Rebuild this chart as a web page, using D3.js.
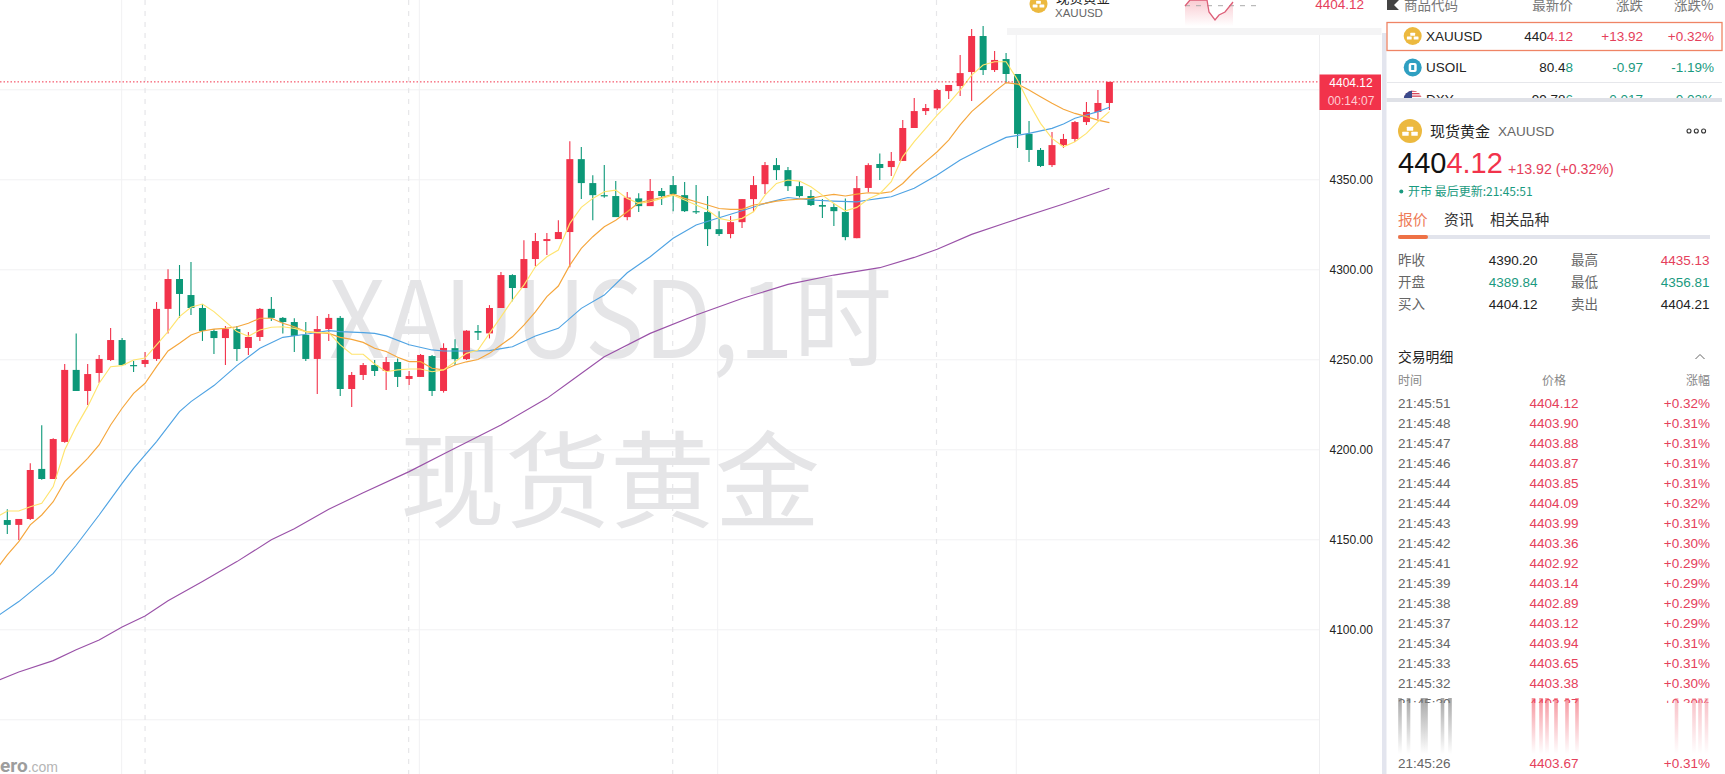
<!DOCTYPE html>
<html>
<head>
<meta charset="utf-8">
<script src="https://cdn.jsdelivr.net/npm/d3@7/dist/d3.min.js"></script>
<style>
html,body{margin:0;padding:0;background:#fff;overflow:hidden}
svg{display:block}
text{font-family:"Liberation Sans","Noto Sans CJK SC",sans-serif}
.cjk{font-family:"Noto Sans CJK SC",sans-serif}
</style>
</head>
<body>
<div id="chart"></div>
<script>
// ---------- chart data ----------
const opens=[4160.7,4158.0,4161.3,4189.1,4183.5,4204.1,4244.1,4232.4,4242.4,4249.6,4260.7,4246.8,4247.4,4250.2,4278.0,4294.6,4285.7,4278.5,4265.7,4261.8,4266.8,4256.3,4262.4,4278.0,4273.0,4270.7,4263.5,4250.2,4266.8,4273.0,4233.5,4241.3,4246.8,4243.5,4248.5,4239.1,4240.2,4251.8,4232.4,4256.2,4250.1,4265.7,4264.4,4278.5,4296.8,4289.6,4305.7,4315.7,4316.8,4320.7,4361.2,4347.9,4341.2,4340.7,4329.0,4339.4,4335.1,4343.5,4346.8,4341.2,4332.3,4331.8,4322.3,4319.6,4326.2,4339.0,4347.3,4357.9,4355.1,4346.2,4340.7,4335.7,4334.6,4331.8,4317.3,4345.2,4358.5,4356.8,4360.2,4378.5,4387.9,4389.4,4399.0,4401.8,4409.6,4429.6,4410.7,4416.8,4408.5,4375.2,4366.3,4357.9,4369.0,4372.4,4381.8,4387.4,4392.4];
const highs=[4166.7,4161.3,4192.2,4213.3,4206.1,4247.4,4264.4,4247.4,4252.4,4267.4,4261.8,4249.1,4254.1,4281.8,4300.0,4302.4,4304.1,4280.7,4266.8,4268.5,4268.5,4265.2,4278.5,4284.6,4273.5,4272.8,4270.7,4274.1,4275.2,4274.1,4243.0,4248.0,4249.6,4251.3,4250.5,4243.5,4253.0,4252.4,4258.9,4261.2,4266.2,4269.0,4280.1,4298.5,4297.3,4316.2,4320.1,4320.1,4327.3,4371.2,4367.9,4352.3,4357.9,4349.0,4342.9,4342.3,4350.1,4345.1,4351.8,4348.5,4346.8,4340.7,4332.3,4329.6,4339.0,4351.8,4359.6,4361.8,4356.8,4349.0,4344.0,4339.0,4336.6,4339.4,4351.8,4358.9,4364.4,4365.2,4382.9,4395.2,4391.8,4400.2,4402.4,4419.0,4433.5,4435.1,4421.3,4420.2,4408.5,4382.4,4367.4,4376.3,4375.2,4382.4,4392.9,4399.6,4404.12];
const lows=[4153.0,4149.6,4160.7,4183.1,4183.5,4203.7,4232.4,4224.6,4236.8,4249.1,4246.7,4243.0,4245.7,4249.1,4264.4,4273.0,4274.6,4260.2,4253.0,4246.8,4249.1,4252.4,4260.2,4271.3,4264.4,4254.1,4249.1,4230.7,4260.2,4229.6,4223.5,4238.5,4240.7,4233.0,4234.6,4235.7,4240.2,4229.6,4231.5,4246.8,4249.6,4260.7,4261.6,4278.5,4282.3,4289.6,4301.8,4307.9,4316.8,4301.2,4339.0,4327.3,4339.8,4329.0,4327.3,4331.8,4335.1,4335.7,4332.3,4331.8,4330.7,4312.9,4318.5,4317.3,4322.9,4331.8,4341.8,4349.6,4343.5,4339.9,4335.1,4328.5,4324.0,4316.2,4317.3,4342.9,4349.6,4351.8,4360.2,4378.5,4385.7,4388.5,4394.6,4396.3,4393.5,4407.9,4409.6,4403.3,4367.4,4359.6,4356.8,4356.8,4367.4,4370.7,4380.2,4383.3,4388.5];
const closes=[4158.0,4161.3,4188.5,4183.5,4205.7,4244.1,4232.4,4241.8,4250.2,4260.7,4246.8,4246.3,4249.6,4278.0,4294.6,4286.3,4278.5,4265.7,4261.8,4266.8,4255.7,4262.4,4278.0,4273.0,4270.7,4263.0,4250.2,4266.8,4273.0,4233.5,4241.3,4246.8,4243.5,4248.5,4240.2,4240.7,4252.4,4232.4,4256.3,4250.1,4265.9,4264.8,4278.5,4296.8,4289.6,4305.7,4315.7,4316.8,4320.7,4361.2,4347.9,4341.2,4340.5,4329.0,4339.9,4335.1,4343.5,4340.7,4341.8,4332.3,4331.8,4322.3,4319.6,4326.2,4339.0,4346.8,4357.9,4355.1,4346.2,4340.7,4335.7,4334.8,4332.3,4317.9,4345.1,4357.9,4356.3,4360.2,4378.5,4387.9,4389.6,4399.6,4402.4,4409.0,4429.6,4410.7,4416.3,4408.5,4375.2,4366.3,4357.4,4369.0,4372.4,4381.8,4387.4,4392.4,4404.12];

const ma5Bars=[-1,0,1,2,3,4,5,6,7,8,9,10,11,12,13,14,15,16,17,18,19,20,21,22,23,24,25,26,27,28,29,30,31,32,33,34,35,36,37,38,39,40,41,42,43,44,45,46,47,48,49,50,51,52,53,54,55,56,57,58,59,60,61,62,63,64,65,66,67,68,69,70,71,72,73,74,75,76,77,78,79,80,81,82,83,84,85,86,87,88,89,90,91,92,93,94,95,96];
const ma5Vals=[4162.2,4165.7,4165.7,4168.1,4170,4179.3,4199.6,4212.6,4223.7,4236.7,4245.9,4246.5,4249.6,4250.7,4258,4265.4,4273.7,4278.9,4280.7,4276.5,4270.9,4265.4,4262.8,4266.3,4267.8,4268.1,4267.2,4265.4,4264.8,4264.8,4258,4252.8,4252.8,4247.4,4243.1,4244.1,4244.6,4244.6,4243.1,4244.1,4248.6,4253.3,4255.1,4264.4,4273.6,4282.9,4291.2,4301.4,4307,4310.7,4325.5,4334.4,4339.4,4343.1,4344,4339.4,4336.6,4337.5,4339.4,4341.2,4338.5,4335.7,4332.9,4328.3,4327,4328.3,4332,4341.2,4347.7,4349.6,4349,4345.9,4341.2,4336.6,4332.5,4334.4,4339,4342,4348.7,4362.6,4370.9,4378.3,4385.7,4392.2,4399.6,4407.9,4413.5,4415.3,4415.3,4405.2,4392.2,4381.1,4372.7,4368.1,4370.9,4375.5,4382,4387.6];
const ma10Bars=ma5Bars;
const ma10Vals=[4133,4141.3,4148.7,4158,4163.5,4170.9,4182,4188.5,4195,4202.4,4213.5,4222.8,4231.1,4236.7,4245.9,4254.6,4258.9,4263.5,4265.7,4266.8,4267.2,4268.1,4270,4272.8,4272.8,4270,4268.1,4265.4,4264.8,4264.4,4262.2,4261.1,4259.4,4256.1,4254.3,4251.1,4248.7,4248.7,4245,4244.1,4246.8,4248.6,4249.9,4253.3,4257.9,4262.5,4269,4276.4,4284.8,4290.7,4302.3,4311.6,4318.1,4323.6,4327.3,4332,4337,4338.5,4339.9,4341.8,4339.4,4337.5,4335.7,4333.8,4333.3,4333.3,4335.7,4336.6,4337.9,4338.5,4339,4339.4,4340.7,4341.6,4340.7,4341.8,4342.5,4342.2,4343.1,4347.7,4354.2,4359.8,4365.3,4371.8,4380.2,4387.6,4393.1,4398.7,4403.7,4402.9,4399.6,4395.9,4392.2,4388.9,4386.6,4384.8,4382.9,4381.5];
const ma20Bars=[-1,1,4,6,8,10,11,13,15,16,18,20,22,24,26,28,29,31,32,33,35,37,38,40,42,44,46,48,50,52,54,56,58,60,62,64,66,68,70,72,74,75,76,77,79,81,83,85,87,89,91,92,93,94,95,96];
const ma20Vals=[4106.7,4115.4,4131.1,4146.7,4163.5,4181.1,4189.4,4204.3,4220.9,4226.5,4235.4,4246.5,4256.1,4262.2,4263.9,4265.9,4265.4,4264.8,4264.4,4263,4258.1,4255.2,4254.6,4254.6,4254.8,4257,4262.9,4267.2,4278.3,4285.7,4298.1,4307,4317.2,4324.6,4328.6,4332.5,4336.6,4339.9,4338.5,4337.9,4337.5,4338.5,4339.4,4340.3,4345,4352.4,4360.7,4367.2,4373.3,4375.5,4378.3,4380.7,4383.9,4385.7,4387.6,4390];
const ma60Bars=[-1,1,4,6,8,10,12,14,17,20,23,25,28,31,35,38,43,47,49,52,56,60,64,68,72,76,79,81,84,87,92,96];
const ma60Vals=[4071.1,4076.3,4082.6,4088.6,4094.1,4101.3,4107.4,4115.8,4126.5,4137.6,4149.7,4155.8,4166.7,4175.9,4187.6,4197.4,4213.5,4228.3,4237.5,4251.4,4264.4,4274.6,4283.8,4291.6,4296.8,4300.9,4306.6,4311.1,4319.4,4325.9,4336.3,4345];

const gridPrices=[4050,4100,4150,4200,4250,4300,4350,4400];
const tickPrices=[4100,4150,4200,4250,4300,4350];
const lastPrice=4404.12;
const lastPriceLabel="4404.12";
const countdown="00:14:07";
const watermarkTop="XAUUSD,1时";
const watermarkBottom="现货黄金";
// bar positions of the time separators
const solidGridBars=[9.96,35.89,61.88,87.89];
const dashedGridBars=[12.0,34.96,57.96,80.94];

// top pop-up sparkline
const sparkX=[0,5,22,24,30,34,40,48];
const sparkY=[6,0,0,12,20,15,12,2];

// ---------- side panel data ----------
const watchHeader=["商品代码","最新价","涨跌","涨跌%"];
const watchSymbols=["XAUUSD","USOIL","DXY"];
const watchBlack=["440","80.4","99.78"];
const watchColored=["4.12","8","6"];
const watchChange=["+13.92","-0.97","-0.017"];
const watchPct=["+0.32%","-1.19%","-0.02%"];
const statLabelsL=["昨收","开盘","买入"];
const statValuesL=["4390.20","4389.84","4404.12"];
const statLabelsR=["最高","最低","卖出"];
const statValuesR=["4435.13","4356.81","4404.21"];
const tradeTimes=["21:45:51","21:45:48","21:45:47","21:45:46","21:45:44","21:45:44","21:45:43","21:45:42","21:45:41","21:45:39","21:45:38","21:45:37","21:45:34","21:45:33","21:45:32","21:45:30"];
const tradePrices=["4404.12","4403.90","4403.88","4403.87","4403.85","4404.09","4403.99","4403.36","4402.92","4403.14","4402.89","4403.12","4403.94","4403.65","4403.38","4403.27"];
const tradePcts=["+0.32%","+0.31%","+0.31%","+0.31%","+0.31%","+0.32%","+0.31%","+0.30%","+0.29%","+0.29%","+0.29%","+0.29%","+0.31%","+0.31%","+0.30%","+0.30%"];
const lastTrade=["21:45:26","4403.67","+0.31%"];

// ---------- colours ----------
const UP="#f2334b", DOWN="#0c9878", PANEL_RED="#e5405b", PANEL_GREEN="#1a9a80";

const W=1725,H=774;
const svg=d3.select("#chart").append("svg").attr("width",W).attr("height",H).attr("viewBox",`0 0 ${W} ${H}`);
const defs=svg.append("defs");
const chartW=1319.5;

const x=d3.scaleLinear().domain([0,96]).range([7.3,1109.4]);
const y=d3.scaleLinear().domain([4050,4400]).range([719.3,89.3]);

defs.append("clipPath").attr("id","plot").append("rect").attr("x",0).attr("y",0).attr("width",chartW).attr("height",H);

const chart=svg.append("g").attr("clip-path","url(#plot)");

// grid
chart.selectAll("line.h").data(gridPrices).join("line").attr("class","h")
  .attr("x1",0).attr("x2",chartW).attr("y1",d=>y(d)+.5).attr("y2",d=>y(d)+.5)
  .attr("stroke","#f1f1f3").attr("stroke-width",1);
chart.selectAll("line.v").data(solidGridBars).join("line").attr("class","v")
  .attr("x1",d=>x(d)).attr("x2",d=>x(d)).attr("y1",0).attr("y2",H)
  .attr("stroke","#f1f1f3").attr("stroke-width",1);
chart.selectAll("line.d").data(dashedGridBars).join("line").attr("class","d")
  .attr("x1",d=>x(d)).attr("x2",d=>x(d)).attr("y1",0).attr("y2",H)
  .attr("stroke","#e6e6e9").attr("stroke-width",1.2).attr("stroke-dasharray","5 6");

// watermarks
chart.append("text").text(watermarkTop).attr("x",329).attr("y",358)
  .attr("font-size",106).attr("textLength",563).attr("lengthAdjust","spacingAndGlyphs")
  .attr("fill","#e5e5e7").attr("class","cjk").attr("font-weight",400);
chart.append("text").text(watermarkBottom).attr("x",400).attr("y",519)
  .attr("font-size",105).attr("fill","#e5e5e7").attr("class","cjk").attr("font-weight",400);

// logo
const logo=svg.append("text").attr("x",0).attr("y",772);
logo.append("tspan").text("ero").attr("font-size",19).attr("font-weight",700).attr("fill","#9d9d9d").attr("font-family","Roboto");
logo.append("tspan").text(".com").attr("font-size",14).attr("fill","#b5b5b5");

// candles
const bars=d3.range(opens.length);
const candle=chart.append("g").selectAll("g").data(bars).join("g");
candle.append("line")
  .attr("x1",i=>x(i)).attr("x2",i=>x(i))
  .attr("y1",i=>y(highs[i])).attr("y2",i=>y(lows[i]))
  .attr("stroke",i=>closes[i]>=opens[i]?UP:DOWN).attr("stroke-width",1.1);
candle.append("rect")
  .attr("x",i=>x(i)-3.5).attr("width",7)
  .attr("y",i=>y(Math.max(opens[i],closes[i])))
  .attr("height",i=>Math.max(1.2,Math.abs(y(opens[i])-y(closes[i]))))
  .attr("fill",i=>closes[i]>=opens[i]?UP:DOWN);

// moving averages
const lineGen=d3.line().x(d=>x(d[0])).y(d=>y(d[1]));
[[ma60Bars,ma60Vals,"#9a52a8"],[ma20Bars,ma20Vals,"#4fa3e3"],[ma10Bars,ma10Vals,"#f5a63c"],[ma5Bars,ma5Vals,"#ffe46e"]]
.forEach(([b,v,c])=>{
  chart.append("path").datum(b.map((d,i)=>[d,v[i]])).attr("d",lineGen)
    .attr("fill","none").attr("stroke",c).attr("stroke-width",1.15);
});

// last price line
chart.append("line").attr("x1",0).attr("x2",chartW).attr("y1",y(lastPrice)).attr("y2",y(lastPrice))
  .attr("stroke",UP).attr("stroke-width",1).attr("stroke-dasharray","1.5 2");

// y axis
svg.append("line").attr("x1",chartW).attr("x2",chartW).attr("y1",0).attr("y2",H).attr("stroke","#eeeeF0");
const axis=svg.append("g").attr("transform",`translate(${chartW},0)`)
  .call(d3.axisRight(y).tickValues(tickPrices).tickSize(0).tickPadding(10).tickFormat(d3.format(".2f")));
axis.select(".domain").remove();
axis.selectAll("text").attr("font-size",12).attr("fill","#222").attr("font-family","Liberation Sans");

// last price tag
svg.append("rect").attr("x",chartW).attr("y",74.5).attr("width",61.5).attr("height",35.5).attr("fill",UP);
svg.append("text").text(lastPriceLabel).attr("x",1351).attr("y",87).attr("text-anchor","middle").attr("font-size",12).attr("font-weight",400).attr("fill","#fff");
svg.append("text").text(countdown).attr("x",1351).attr("y",104.5).attr("text-anchor","middle").attr("font-size",12).attr("fill","#ffccd2");

// top pop-up strip
const topBar=svg.append("g");
topBar.append("rect").attr("x",1007).attr("y",0).attr("width",375).attr("height",28).attr("fill","#fff");
topBar.append("rect").attr("x",1007).attr("y",28).attr("width",375).attr("height",7).attr("fill","#f4f4f5");
const sx=d3.scaleLinear().domain([0,48]).range([1185,1233]);
const sy=d3.scaleLinear().domain([0,20]).range([0,20]);
const spg=defs.append("linearGradient").attr("id","spark").attr("x1",0).attr("x2",0).attr("y1",0).attr("y2",1);
spg.append("stop").attr("offset",0).attr("stop-color","#f5a0ac").attr("stop-opacity",.55);
spg.append("stop").attr("offset",1).attr("stop-color","#f5a0ac").attr("stop-opacity",0);
const spk=sparkX.map((d,i)=>[d,sparkY[i]]);
topBar.append("path").datum(spk).attr("d",d3.area().x(d=>sx(d[0])).y0(26).y1(d=>sy(d[1]))).attr("fill","url(#spark)");
topBar.append("line").attr("x1",1185).attr("x2",1261).attr("y1",5.7).attr("y2",5.7).attr("stroke","#aaa").attr("stroke-dasharray","5 6");
topBar.append("path").datum(spk).attr("d",d3.line().x(d=>sx(d[0])).y(d=>sy(d[1]))).attr("fill","none").attr("stroke","#dd5f78").attr("stroke-width",1.3);
topBar.append("text").text("4404.12").attr("x",1364).attr("y",9).attr("text-anchor","end").attr("font-size",13.5).attr("fill",PANEL_RED);
function goldIcon(g,cx,cy,r){
  g.append("circle").attr("cx",cx).attr("cy",cy).attr("r",r).attr("fill","#ecb93f");
  const u=r/9;
  [[-1.2,-3.2],[-4.6,.6],[2.2,.6]].forEach(([dx,dy])=>{
    g.append("rect").attr("x",cx+dx*u-1.2*u).attr("y",cy+dy*u).attr("width",4.8*u).attr("height",3*u).attr("fill","#fff").attr("rx",.5);
  });
}
goldIcon(topBar,1038.5,4,9);
topBar.append("text").text(watermarkBottom).attr("x",1056).attr("y",3).attr("font-size",13.5).attr("fill","#222").attr("class","cjk");
topBar.append("text").text("XAUUSD").attr("x",1055).attr("y",17).attr("font-size",11.5).attr("fill","#666");

// ---------- side panel ----------
const panel=svg.append("g");
panel.append("rect").attr("x",1381.5).attr("y",0).attr("width",W-1381.5).attr("height",H).attr("fill","#fff");
panel.append("rect").attr("x",1382).attr("y",33).attr("width",4.5).attr("height",H-33).attr("fill","#e3e5ee");
panel.append("rect").attr("x",1386.5).attr("y",98).attr("width",W-1386.5-3).attr("height",4).attr("fill","#dfe1e7");

// watch list header
panel.append("path").attr("d","M1387 0H1399L1394 5L1399 10H1387Z").attr("fill","#444");
[[1404,"start"],[1572.7,"end"],[1643,"end"],[1713.5,"end"]].forEach((p,i)=>{
  panel.append("text").text(watchHeader[i]).attr("x",p[0]).attr("y",10).attr("text-anchor",p[1])
    .attr("font-size",13.5).attr("fill","#777").attr("class","cjk");
});
panel.append("rect").attr("x",1387).attr("y",22.5).attr("width",335).attr("height",28).attr("fill","none").attr("stroke","#ef8465").attr("stroke-width",1.3);
panel.append("line").attr("x1",1387).attr("x2",1722).attr("y1",82.5).attr("y2",82.5).attr("stroke","#e6e7eb");
defs.append("clipPath").attr("id","watch").append("rect").attr("x",1386).attr("y",0).attr("width",339).attr("height",98);
const watch=panel.append("g").attr("clip-path","url(#watch)");
const rowY=[36,67.5,99.5];
const watchColor=[PANEL_RED,PANEL_GREEN,PANEL_GREEN];
goldIcon(watch,1412.7,36,9);
watch.append("circle").attr("cx",1412.7).attr("cy",67.5).attr("r",9).attr("fill","#2f9fc1");
watch.append("rect").attr("x",1408.7).attr("y",63).attr("width",8).attr("height",9).attr("rx",2).attr("fill","#fff");
watch.append("rect").attr("x",1411.2).attr("y",65).attr("width",3).attr("height",5).attr("fill","#2f9fc1");
defs.append("clipPath").attr("id","flag").append("circle").attr("cx",1412.7).attr("cy",99.5).attr("r",9);
const flag=watch.append("g").attr("clip-path","url(#flag)");
flag.append("rect").attr("x",1403).attr("y",90).attr("width",20).attr("height",20).attr("fill","#fff");
[90.5,93,95.5].forEach(v=>flag.append("rect").attr("x",1403).attr("y",v).attr("width",20).attr("height",1.3).attr("fill","#d8465a"));
flag.append("rect").attr("x",1403).attr("y",90).attr("width",9).attr("height",8).attr("fill","#3b4a8c");
watchSymbols.forEach((s,i)=>{
  const yy=rowY[i]+4.8;
  watch.append("text").text(s).attr("x",1426).attr("y",yy).attr("font-size",13.5).attr("fill","#222");
  const t=watch.append("text").attr("x",1573).attr("y",yy).attr("text-anchor","end").attr("font-size",13.5);
  t.append("tspan").text(watchBlack[i]).attr("fill","#222");
  t.append("tspan").text(watchColored[i]).attr("fill",watchColor[i]);
  watch.append("text").text(watchChange[i]).attr("x",1643).attr("y",yy).attr("text-anchor","end").attr("font-size",13.5).attr("fill",watchColor[i]);
  watch.append("text").text(watchPct[i]).attr("x",1714).attr("y",yy).attr("text-anchor","end").attr("font-size",13.5).attr("fill",watchColor[i]);
});

// detail header
goldIcon(panel,1410,131,12);
panel.append("text").text(watermarkBottom).attr("x",1430).attr("y",136.5).attr("font-size",15).attr("fill","#222").attr("class","cjk");
panel.append("text").text("XAUUSD").attr("x",1498).attr("y",136).attr("font-size",13.5).attr("fill","#666");
[1689,1696.3,1703.6].forEach(v=>panel.append("circle").attr("cx",v).attr("cy",131).attr("r",2).attr("fill","none").attr("stroke","#333").attr("stroke-width",1.1));
const big=panel.append("text").attr("x",1398).attr("y",173).attr("font-size",29);
big.append("tspan").text("440").attr("fill","#111");
big.append("tspan").text("4.12").attr("fill",UP);
panel.append("text").text("+13.92 (+0.32%)").attr("x",1508).attr("y",174).attr("font-size",14.2).attr("fill",PANEL_RED);
panel.append("circle").attr("cx",1401.3).attr("cy",191.5).attr("r",2).attr("fill",PANEL_GREEN);
panel.append("text").text("开市 最后更新:21:45:51").attr("x",1408).attr("y",196).attr("font-size",12).attr("fill",PANEL_GREEN).attr("class","cjk");

// tabs
[["报价",1398,"#ee7c58"],["资讯",1444,"#333"],["相关品种",1490,"#333"]].forEach(t=>{
  panel.append("text").text(t[0]).attr("x",t[1]).attr("y",224.5).attr("font-size",14.8).attr("fill",t[2]).attr("class","cjk");
});
panel.append("rect").attr("x",1398).attr("y",235).attr("width",312).attr("height",4).attr("fill","#e2e4ec");
panel.append("rect").attr("x",1398).attr("y",235).attr("width",30).attr("height",4).attr("rx",2).attr("fill","#ee7145");

// stats
const statY=[265,287,309];
const statLColor=["#222",PANEL_GREEN,"#222"], statRColor=[PANEL_RED,PANEL_GREEN,"#222"];
statY.forEach((yy,i)=>{
  panel.append("text").text(statLabelsL[i]).attr("x",1398).attr("y",yy).attr("font-size",13.5).attr("fill","#666").attr("class","cjk");
  panel.append("text").text(statValuesL[i]).attr("x",1537.5).attr("y",yy).attr("text-anchor","end").attr("font-size",13.5).attr("fill",statLColor[i]);
  panel.append("text").text(statLabelsR[i]).attr("x",1571).attr("y",yy).attr("font-size",13.5).attr("fill","#666").attr("class","cjk");
  panel.append("text").text(statValuesR[i]).attr("x",1709.5).attr("y",yy).attr("text-anchor","end").attr("font-size",13.5).attr("fill",statRColor[i]);
});

// trades
panel.append("text").text("交易明细").attr("x",1398).attr("y",362.3).attr("font-size",13.8).attr("fill","#222").attr("class","cjk");
panel.append("path").attr("d","M1695.5 359L1700 354.5L1704.5 359").attr("fill","none").attr("stroke","#666").attr("stroke-width",1);
panel.append("text").text("时间").attr("x",1398).attr("y",384.5).attr("font-size",12).attr("fill","#888").attr("class","cjk");
panel.append("text").text("价格").attr("x",1554).attr("y",384.5).attr("text-anchor","middle").attr("font-size",12).attr("fill","#888").attr("class","cjk");
panel.append("text").text("涨幅").attr("x",1710).attr("y",384.5).attr("text-anchor","end").attr("font-size",12).attr("fill","#888").attr("class","cjk");

defs.append("clipPath").attr("id","rows").append("rect").attr("x",1386).attr("y",390).attr("width",339).attr("height",313);
const rows=panel.append("g").attr("clip-path","url(#rows)");
const rowPos=d3.scaleLinear().domain([0,15]).range([408,708]);
function tradeRow(g,yy,a,b,c){
  g.append("text").text(a).attr("x",1398).attr("y",yy).attr("font-size",13.5).attr("fill","#666");
  g.append("text").text(b).attr("x",1554).attr("y",yy).attr("text-anchor","middle").attr("font-size",13.5).attr("fill",PANEL_RED);
  g.append("text").text(c).attr("x",1710).attr("y",yy).attr("text-anchor","end").attr("font-size",13.5).attr("fill",PANEL_RED);
}
tradeTimes.forEach((t,i)=>tradeRow(rows,rowPos(i),t,tradePrices[i],tradePcts[i]));
tradeRow(panel,768,lastTrade[0],lastTrade[1],lastTrade[2]);

// smeared row
const smearTime=[1400,1408.5,1422.5,1426,1442.5,1450];
const smearPrice=[1533.5,1541,1547,1556,1567,1577];
const smearPct=[1676.5,1694,1700,1706.5];
function smear(id,col,xs,w,op){
  const g=defs.append("linearGradient").attr("id",id).attr("x1",0).attr("x2",0).attr("y1",0).attr("y2",1);
  g.append("stop").attr("offset",0).attr("stop-color",col).attr("stop-opacity",op);
  g.append("stop").attr("offset",1).attr("stop-color",col).attr("stop-opacity",0);
  panel.selectAll(null).data(xs).join("rect").attr("x",d=>d-w/2).attr("y",698).attr("width",w).attr("height",56).attr("fill",`url(#${id})`);
}
smear("smT","#777",smearTime,3.6,.65);
smear("smP","#f0505f",smearPrice,3.6,.6);
smear("smC","#f0707f",smearPct,3.6,.45);
</script>
</body>
</html>
